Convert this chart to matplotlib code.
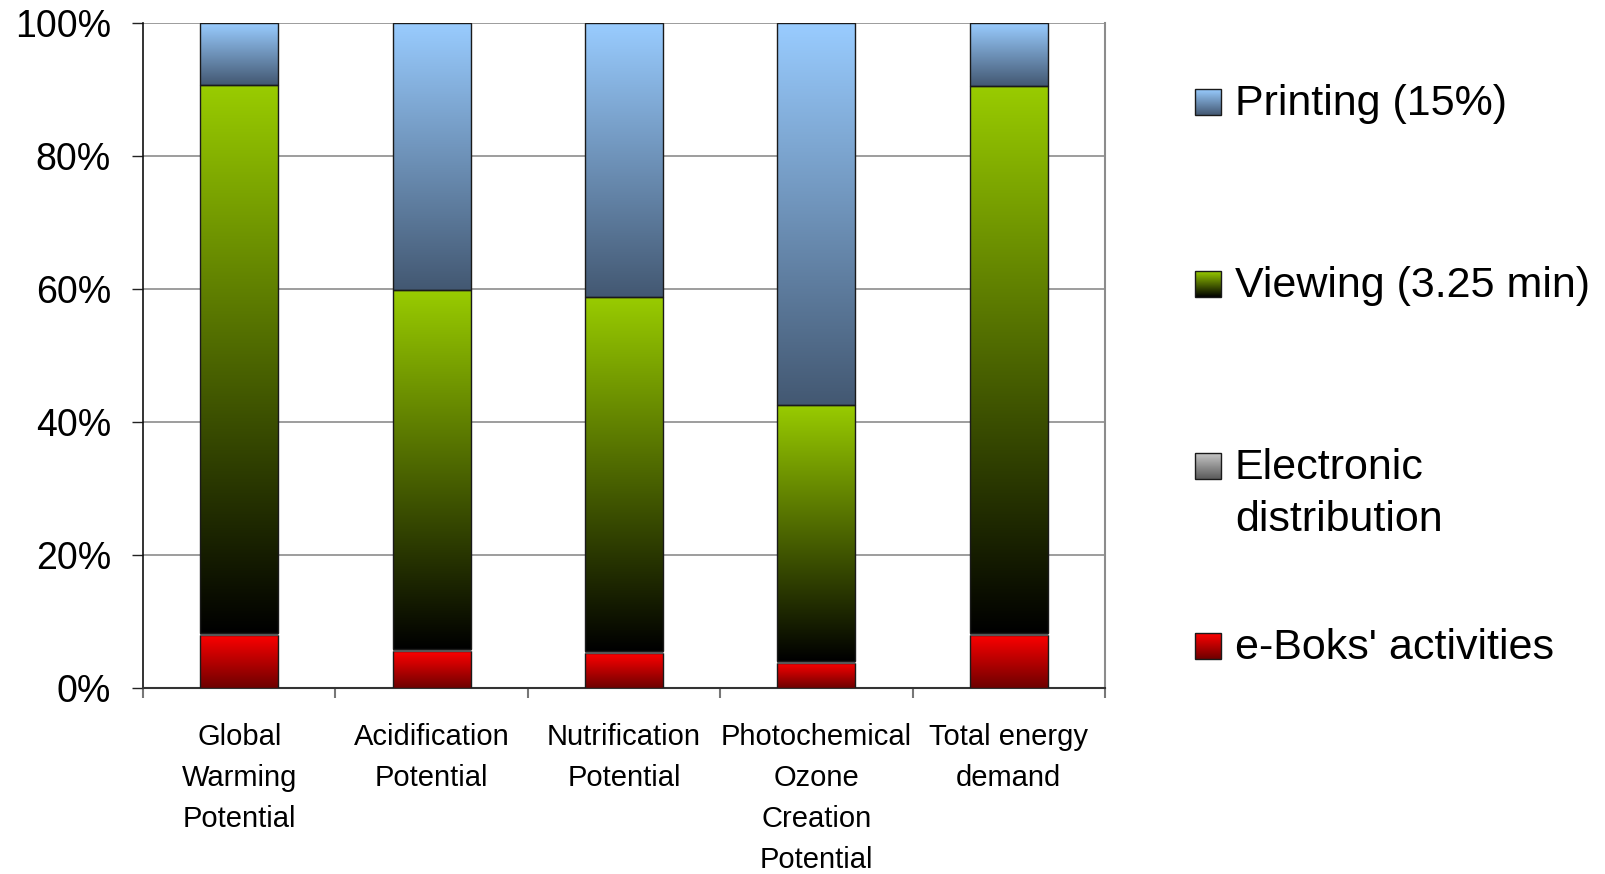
import numpy as np
import matplotlib
matplotlib.use("Agg")
import matplotlib.pyplot as plt
from matplotlib.colors import LinearSegmentedColormap

plt.rcParams["font.family"] = ["Liberation Sans", "DejaVu Sans"]

# Impact categories and the share (%) of each life-cycle stage
categories = ["Global\nWarming\nPotential", "Acidification\nPotential",
              "Nutrification\nPotential", "Photochemical\nOzone\nCreation\nPotential",
              "Total energy\ndemand"]
eboks = [8.0, 5.5, 5.2, 3.8, 8.0]
electronic = [0.3, 0.3, 0.3, 0.3, 0.3]
viewing = [82.4, 54.0, 53.3, 38.5, 82.3]
printing = [9.3, 40.2, 41.2, 57.4, 9.4]

series_labels = ["e-Boks' activities", "Electronic\ndistribution",
                 "Viewing (3.25 min)", "Printing (15%)"]
yticks = [0, 20, 40, 60, 80, 100]

# gradient (top colour, bottom colour) per stage
gradients = {
    "eboks": ("#FF0000", "#6E0000"),
    "electronic": ("#C8C8C8", "#5A5A5A"),
    "viewing": ("#99CC00", "#000000"),
    "printing": ("#99CCFF", "#435872"),
}


def grad_image(top, bottom, n=256):
    cmap = LinearSegmentedColormap.from_list("g", [bottom, top])
    vals = np.linspace(1, 0, n).reshape(-1, 1)
    return cmap(vals)


W, H = 1605, 874
fig = plt.figure(figsize=(W / 100, H / 100), dpi=100)
ax = fig.add_axes([143 / W, 1 - 688 / H, (1105 - 143) / W, (688 - 23) / H])

x = np.arange(len(categories))
width = 0.405
stack = [("eboks", eboks), ("electronic", electronic),
         ("viewing", viewing), ("printing", printing)]
bottom = np.zeros(len(categories))
for key, vals in stack:
    vals = np.asarray(vals)
    top, bot = gradients[key]
    img = grad_image(top, bot)
    lw = 0.4 if key == "electronic" else 1.0
    ec = "#8a8a8a" if key == "electronic" else "#1a1a1a"
    bars = ax.bar(x, vals, width, bottom=bottom, facecolor="none",
                  edgecolor=ec, linewidth=lw, zorder=4)
    for p in bars.patches:
        x0, y0 = p.get_x(), p.get_y()
        ax.imshow(img, extent=(x0, x0 + p.get_width(), y0, y0 + p.get_height()),
                  aspect="auto", interpolation="bilinear", zorder=3)
    bottom += vals

ax.set_xlim(-0.5, len(categories) - 0.5)
ax.set_ylim(0, 100)

ax.set_yticks(yticks)
ax.set_yticklabels([f"{v}%" for v in yticks], fontsize=27)
ax.tick_params(axis="y", length=8, width=1, color="#222222", pad=15)
ax.yaxis.grid(True, color="#8c8c8c", linewidth=1.2, zorder=0)
ax.set_axisbelow(True)

ax.set_xticks(x)
ax.set_xticklabels(categories, fontsize=21, linespacing=1.6)
ax.tick_params(axis="x", which="major", length=0, pad=25)
ax.set_xticks(np.arange(-0.5, len(categories)), minor=True)
ax.tick_params(axis="x", which="minor", length=7, width=1.5, color="#777777")

ax.spines["top"].set_visible(False)
ax.spines["left"].set_color("#111111")
ax.spines["left"].set_linewidth(1.2)
ax.spines["bottom"].set_color("#333333")
ax.spines["bottom"].set_linewidth(1.5)
ax.spines["right"].set_color("#8c8c8c")
ax.spines["right"].set_linewidth(1.5)

# legend drawn in pixel coordinates to the right of the plot
lax = fig.add_axes([0, 0, 1, 1], zorder=5)
lax.set_xlim(0, W)
lax.set_ylim(H, 0)
lax.axis("off")
legend_rows = [("printing", series_labels[3], 102),
               ("viewing", series_labels[2], 284),
               ("electronic", series_labels[1], 466),
               ("eboks", series_labels[0], 646)]
for key, label, yc in legend_rows:
    top, bot = gradients[key]
    lax.imshow(grad_image(top, bot), extent=(1195, 1221, yc + 13, yc - 13),
               aspect="auto", interpolation="bilinear")
    lax.add_patch(plt.Rectangle((1195, yc - 13), 26, 26, fill=False,
                                edgecolor="#1a1a1a", linewidth=1.0))
    lax.text(1235, yc - 18, label, fontsize=31, va="top", ha="left",
             linespacing=1.38)
lax.set_xlim(0, W)
lax.set_ylim(H, 0)

fig.savefig("out.png", dpi=100)
